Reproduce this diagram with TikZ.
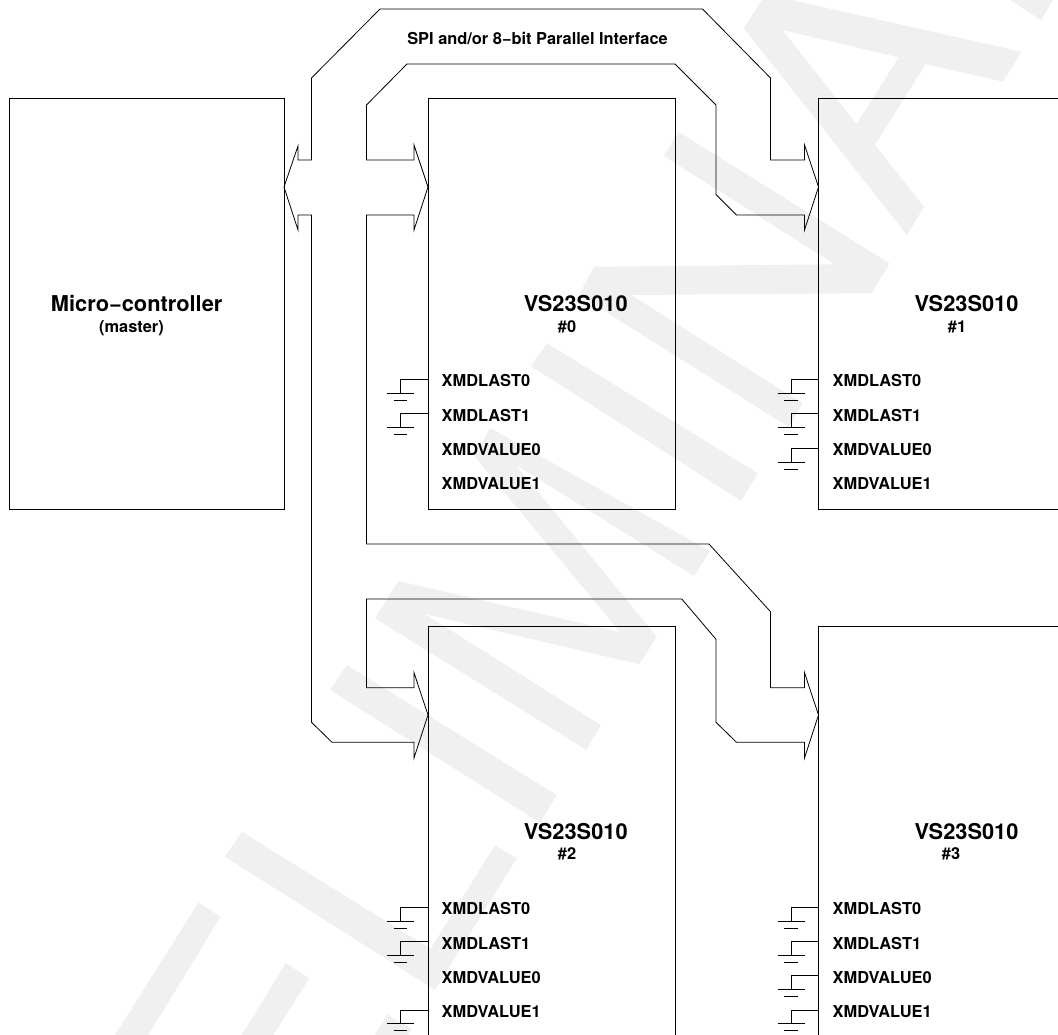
\documentclass[tikz,border=0pt]{standalone}
\usepackage{fontspec}
\setmainfont{TeX Gyre Heros}
\usetikzlibrary{calc}
\definecolor{wm}{HTML}{F0F0F0}
\tikzset{
  block/.style={draw=black,line width=0.9pt,fill=none,anchor=north west,inner sep=0pt,outer sep=0pt},
  bus/.style={draw=black,line width=0.8pt,line join=miter,miter limit=20},
  gndline/.style={draw=black,line width=0.8pt},
  wmark/.style={fill=wm,draw=none,even odd rule},
  big/.style={inner sep=0pt,anchor=base,font=\fontsize{21.8}{24}\selectfont\bfseries},
  small/.style={inner sep=0pt,anchor=base,font=\fontsize{16.4}{18}\selectfont\bfseries},
  pinlabel/.style={small,anchor=base west}
}
\newcommand{\gnd}[2]{\draw[gndline] ($(#1.north west)+(0,-#2)$) -- ++(-27.5,0) -- ++(0,-13.7) ++(-13.5,0) -- ++(27,0) ++(-20.2,-7) -- ++(13.4,0);}
\begin{document}
\begin{tikzpicture}[x=1pt,y=1pt]
\useasboundingbox (0,0) rectangle (1058,-1035);
\clip (0,0) rectangle (1058,-1035);
% watermark
\fill[wmark] (1010,0)--(1041,-20)--(1053,0)--cycle;
\fill[wmark] (743.8,-28.3)--(765.7,5.7)--(1021.6,-51.7)--(1003,-81.7)--(925.6,-64.3)--(875,-145)--(924,-206.7)--(907,-235)--cycle
  (782.5,-30)--(898.7,-57.3)--(856.6,-124)--cycle;
\fill[wmark] (678.1,-131.7)--(889.6,-263.3)--(871.8,-293.3)--(631,-295)--(802.7,-403.3)--(788.7,-427)--(578.8,-295)--(594,-266.7)--(834.7,-264.3)--(664,-156)--cycle;
\fill[wmark] (547.3,-343.3)--(757.7,-473.3)--(741,-500.7)--(530.7,-366)--cycle;
\fill[wmark] (490,-428)--(710,-551)--(694,-576)--(516,-465)--(656.7,-636.7)--(639.3,-664.3)--(425,-614)--(600.7,-725)--(586.4,-750)--(375,-618.3)--(398.3,-581)--(620,-632)--(475,-457)--cycle;
\fill[wmark] (346.7,-665)--(556.7,-795)--(540,-822.7)--(330,-690)--cycle;
\fill[wmark] (241.7,-831.7)--(430.6,-948.8)--(495,-845)--(516.7,-858.3)--(435,-990)--(225,-856.7)--cycle;
\fill[wmark] (198.3,-902.7)--(220.7,-916.7)--(148.3,-1035)--(115,-1035)--cycle;
\fill[wmark] (285.7,-963.3)--(309.3,-978.3)--(273.3,-1035)--(241.7,-1035)--cycle;
\fill[wmark] (387.3,-1014.3)--(411.7,-1029)--(408,-1035)--(375,-1035)--cycle;
% blocks
\node[block,minimum width=274.5pt,minimum height=411pt] (mc) at (9.5,-98.5) {};
\node[block,minimum width=247pt,minimum height=411pt] (u0) at (428,-98.5) {};
\node[block,minimum width=300pt,minimum height=411pt] (u1) at (818.5,-98.5) {};
\node[block,minimum width=247pt,minimum height=500pt] (u2) at (428,-626.5) {};
\node[block,minimum width=300pt,minimum height=500pt] (u3) at (818.5,-626.5) {};
% bus tips
\coordinate (tipM) at ($(mc.north east)+(0,-88.5)$);
\coordinate (tip0) at ($(u0.north west)+(0,-88.5)$);
\coordinate (tip1) at ($(u1.north west)+(0,-88.5)$);
\coordinate (tip2) at ($(u2.north west)+(0,-88.5)$);
\coordinate (tip3) at ($(u3.north west)+(0,-88.5)$);
% bus outline, tip to tip
\draw[bus] (tipM) -- (298,-146) -- (298,-160) -- (311.5,-160) -- (311.5,-78) -- (380,-9) -- (702.5,-9) -- (770.5,-78) -- (770.5,-160) -- (804.5,-160) -- (804.5,-145) -- (tip1);
\draw[bus] (tip1) -- (804.5,-230) -- (804.5,-215) -- (736.5,-215) -- (716,-194.5) -- (716,-105) -- (675,-64) -- (407,-64) -- (366.5,-105) -- (366.5,-160) -- (414,-160) -- (414,-145) -- (tip0);
\draw[bus] (tip0) -- (414,-230) -- (414,-215) -- (366.5,-215) -- (366.5,-544) -- (709,-544) -- (770.5,-611.7) -- (770.5,-687.7) -- (804.5,-687.7) -- (804.5,-672.7) -- (tip3);
\draw[bus] (tip3) -- (804.5,-758) -- (804.5,-742.3) -- (736.5,-742.3) -- (716,-722.3) -- (716,-639.3) -- (681.8,-599) -- (366.5,-599) -- (366.5,-687.7) -- (414,-687.7) -- (414,-672.7) -- (tip2);
\draw[bus] (tip2) -- (414,-758) -- (414,-742.3) -- (332,-742.3) -- (311.5,-722.3) -- (311.5,-215) -- (298,-215) -- (298,-230) -- (tipM);
% texts
\node[small] (spi) at (537.5,-44.3) {SPI and/or 8−bit Parallel Interface};
\node[big] (mctitle) at (136.7,-311.7) {Micro−controller};
\node[small] (mcsub) at (131.5,-332.7) {(master)};
\node[big] (t0) at (575.7,-311.7) {VS23S010};
\node[small] (s0) at (567,-332.7) {\#0};
\node[big] (t1) at (966.5,-311.7) {VS23S010};
\node[small] (s1) at (957,-332.7) {\#1};
\node[big] (t2) at (575.7,-839) {VS23S010};
\node[small] (s2) at (567,-859.3) {\#2};
\node[big] (t3) at (966.5,-839) {VS23S010};
\node[small] (s3) at (951,-859.3) {\#3};
\node[pinlabel] (a0) at (441.5,-386) {XMDLAST0};
\node[pinlabel] (a1) at (441.5,-421) {XMDLAST1};
\node[pinlabel] (a2) at (441.5,-455) {XMDVALUE0};
\node[pinlabel] (a3) at (441.5,-489.3) {XMDVALUE1};
\node[pinlabel] (b0) at (832.5,-386) {XMDLAST0};
\node[pinlabel] (b1) at (832.5,-421) {XMDLAST1};
\node[pinlabel] (b2) at (832.5,-455) {XMDVALUE0};
\node[pinlabel] (b3) at (832.5,-489.3) {XMDVALUE1};
\node[pinlabel] (c0) at (441.5,-914.3) {XMDLAST0};
\node[pinlabel] (c1) at (441.5,-949.3) {XMDLAST1};
\node[pinlabel] (c2) at (441.5,-983.3) {XMDVALUE0};
\node[pinlabel] (c3) at (441.5,-1017.3) {XMDVALUE1};
\node[pinlabel] (d0) at (832.5,-914.3) {XMDLAST0};
\node[pinlabel] (d1) at (832.5,-949.3) {XMDLAST1};
\node[pinlabel] (d2) at (832.5,-983.3) {XMDVALUE0};
\node[pinlabel] (d3) at (832.5,-1017.3) {XMDVALUE1};
% grounded pins
\gnd{u0}{280.7}\gnd{u0}{315.2}
\gnd{u1}{280.7}\gnd{u1}{315.2}\gnd{u1}{349.8}
\gnd{u2}{280.8}\gnd{u2}{315.2}\gnd{u2}{383.5}
\gnd{u3}{280.8}\gnd{u3}{314.8}\gnd{u3}{349.2}\gnd{u3}{383.5}
\end{tikzpicture}
\end{document}
